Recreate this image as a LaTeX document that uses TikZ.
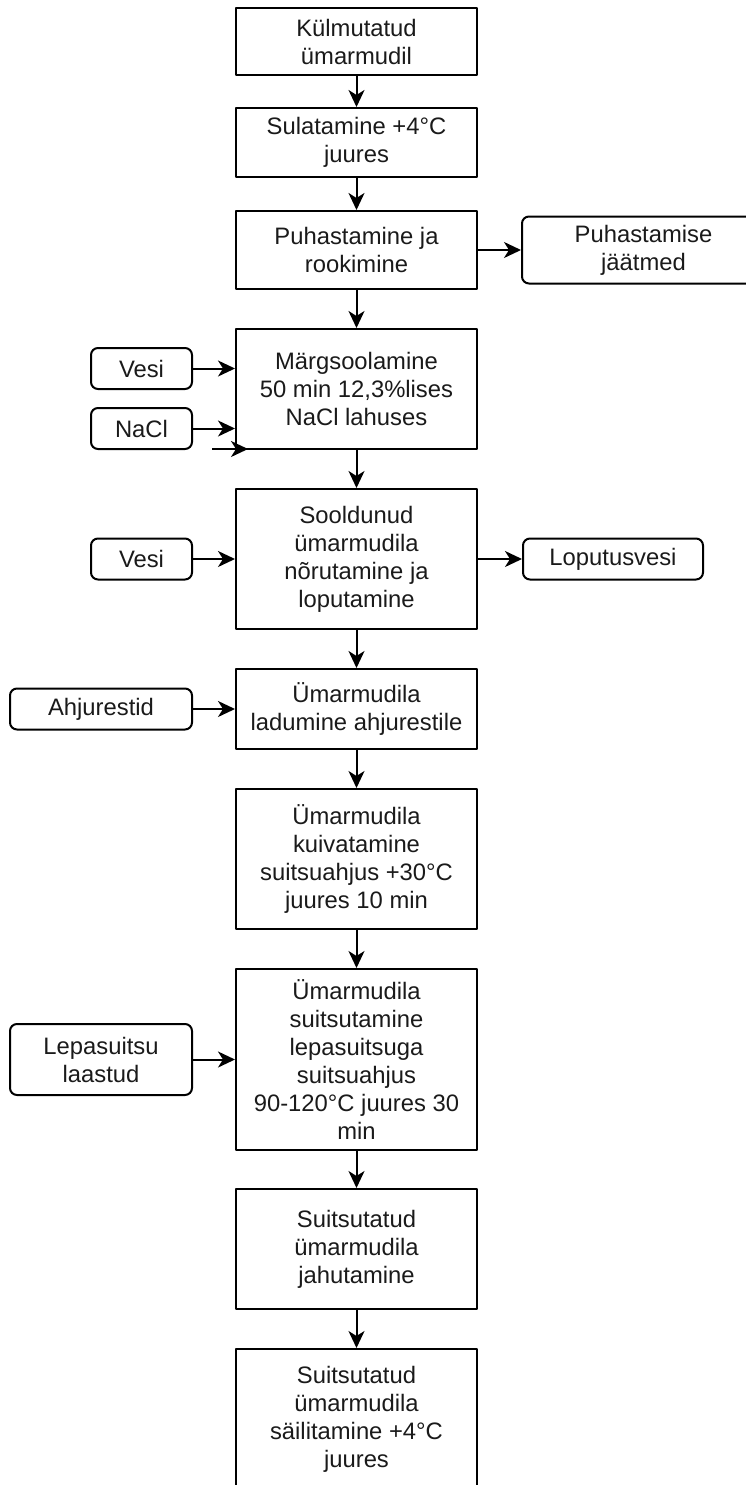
\documentclass[tikz,border=0pt]{standalone}
\usepackage{fontspec}
\setmainfont{Liberation Sans}
\usetikzlibrary{arrows.meta}
\definecolor{flowline}{HTML}{000000}
\definecolor{flowtext}{HTML}{1A1A1A}

\begin{document}
\begin{tikzpicture}[
  x=1pt,
  y=-1pt,
  line join=round,
  font=\fontsize{23.8}{28}\selectfont,
  stepbox/.style={draw=flowline,line width=2pt,minimum width=241pt,inner sep=0pt,align=center,text=flowtext},
  inputbox/.style={draw=flowline,line width=2pt,rounded corners=7pt,inner sep=0pt,align=center,text=flowtext,minimum height=41pt},
  flow/.style={draw=flowline,line width=2pt,-{Stealth[length=17pt,width=16pt,inset=5pt]}}
]
  % Page frame, same proportions as the reference.
  \useasboundingbox (0,0) rectangle (746,1485);

  % Main process chain.
  \node[stepbox,minimum height=67pt]  (frozen) at (356.5,41.5)   {Külmutatud\\ümarmudil};
  \node[stepbox,minimum height=69pt]  (thaw)   at (356.5,142.5)  {Sulatamine +4°C\\juures};
  \node[stepbox,minimum height=78pt]  (clean)  at (356.5,250)    {Puhastamine ja\\rookimine};
  \node[stepbox,minimum height=120pt] (brine)  at (356.5,389)    {Märgsoolamine\\50 min 12,3\%lises\\NaCl lahuses};
  \node[stepbox,minimum height=140pt] (rinse)  at (356.5,559)    {Sooldunud\\ümarmudila\\nõrutamine ja\\loputamine};
  \node[stepbox,minimum height=80pt]  (rack)   at (356.5,709)    {Ümarmudila\\ladumine ahjurestile};
  \node[stepbox,minimum height=140pt] (dry)    at (356.5,859)    {Ümarmudila\\kuivatamine\\suitsuahjus +30°C\\juures 10 min};
  \node[stepbox,minimum height=181pt] (smoke)  at (356.5,1059.5) {Ümarmudila\\suitsutamine\\lepasuitsuga\\suitsuahjus\\90-120°C juures 30\\min};
  \node[stepbox,minimum height=120pt] (cool)   at (356.5,1249)   {Suitsutatud\\ümarmudila\\jahutamine};
  \node[stepbox,minimum height=140pt] (store)  at (356.5,1419)   {Suitsutatud\\ümarmudila\\säilitamine +4°C\\juures};

  % Inputs and outputs at the sides.
  \node[inputbox,minimum width=243pt,minimum height=67pt] (waste)      at (643.5,250)    {Puhastamise\\jäätmed};
  \node[inputbox,minimum width=101pt]                     (waterA)     at (141.5,368.5)  {Vesi};
  \node[inputbox,minimum width=101pt]                     (salt)       at (141.5,428.5)  {NaCl};
  \node[inputbox,minimum width=101pt]                     (waterB)     at (141.5,559)    {Vesi};
  \node[inputbox,minimum width=180pt]                     (rinsewater) at (613,559)      {Loputusvesi};
  \node[inputbox,minimum width=182pt]                     (grates)     at (101,709)      {Ahjurestid};
  \node[inputbox,minimum width=182pt,minimum height=71pt] (chips)      at (101,1059.5)   {Lepasuitsu\\laastud};

  % Downward flow between the steps.
  \foreach \a/\b in {frozen/thaw,thaw/clean,clean/brine,brine/rinse,rinse/rack,
                     rack/dry,dry/smoke,smoke/cool,cool/store} {
    \draw[flow] (\a) -- (\b);
  }

  % Side connections.
  \draw[flow] (clean) -- (waste);
  \draw[flow] (waterA) -- (waterA -| brine.west);
  \draw[flow] (salt) -- (salt -| brine.west);
  \draw[flow] (waterB) -- (rinse);
  \draw[flow] (rinse) -- (rinsewater);
  \draw[flow] (grates) -- (rack);
  \draw[flow] (chips) -- (smoke);

  % Loose arrow along the brine box bottom edge.
  \coordinate (saltfeed) at (212,449);
  \coordinate (saltfeedtip) at (248,449);
  \draw[flow] (saltfeed) -- (saltfeedtip);
\end{tikzpicture}
\end{document}
